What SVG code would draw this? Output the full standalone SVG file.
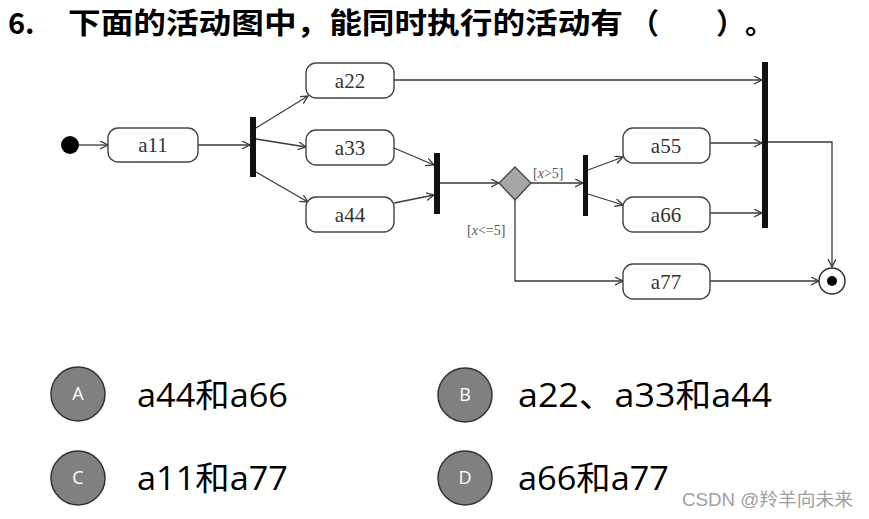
<svg xmlns="http://www.w3.org/2000/svg" width="869" height="519" viewBox="0 0 869 519">
<style>
.title{font-family:"Noto Sans CJK SC","Noto Sans",sans-serif;font-weight:bold;font-size:29px;fill:#000}
.box{fill:#fff;stroke:#444;stroke-width:1.4}
.lbl{font-family:"Liberation Serif","Noto Sans CJK SC",serif;font-size:21px;fill:#333;text-anchor:middle}
.guard{font-family:"Liberation Serif",serif;font-size:14px;fill:#555}
.bar{fill:#111}
.edge{fill:none;stroke:#3a3a3a;stroke-width:1.3}
.opt{fill:#808080;stroke:#333;stroke-width:1.5}
.optl{font-family:"Open Sans","Noto Sans",sans-serif;font-size:18px;fill:#fff;text-anchor:middle}
.optt{font-family:"Open Sans","Noto Sans CJK SC",sans-serif;font-size:33px;fill:#000}
.wm{font-family:"Liberation Sans","Noto Sans CJK SC",sans-serif;font-size:18px;fill:#a0a0a0}
</style>
<defs>
<marker id="arr" markerUnits="userSpaceOnUse" markerWidth="10" markerHeight="10" refX="8" refY="4" orient="auto">
<path d="M0,0 L8,4 L0,8" fill="none" stroke="#3a3a3a" stroke-width="1.3"/>
</marker>
</defs>
<rect width="869" height="519" fill="#fff"/>
<g id="title">
<text class="title" x="8" y="34">6.</text>
<text class="title" x="68" y="34" textLength="555" lengthAdjust="spacingAndGlyphs">下面的活动图中，能同时执行的活动有</text>
<text class="title" x="630" y="34">（</text>
<text class="title" x="716" y="34">）</text>
<text class="title" x="745" y="34">。</text>
</g>
<g id="connectors">
<path class="edge" marker-end="url(#arr)" d="M79,145 L108,145"/>
<path class="edge" marker-end="url(#arr)" d="M198,145 L250,145"/>
<path class="edge" marker-end="url(#arr)" d="M256,128 L308,96"/>
<path class="edge" marker-end="url(#arr)" d="M256,139 L306,147"/>
<path class="edge" marker-end="url(#arr)" d="M256,172 L308,202"/>
<path class="edge" marker-end="url(#arr)" d="M394,80 L762,80"/>
<path class="edge" marker-end="url(#arr)" d="M394,148 L434,165"/>
<path class="edge" marker-end="url(#arr)" d="M394,203 L434,195"/>
<path class="edge" marker-end="url(#arr)" d="M440,183 L499,183"/>
<path class="edge" marker-end="url(#arr)" d="M531,183 L583,183"/>
<path class="edge" marker-end="url(#arr)" d="M588,170 L623,157"/>
<path class="edge" marker-end="url(#arr)" d="M588,194 L623,205"/>
<path class="edge" marker-end="url(#arr)" d="M710,143 L762,143"/>
<path class="edge" marker-end="url(#arr)" d="M710,213 L762,213"/>
<path class="edge" marker-end="url(#arr)" d="M768,142 L832,142 L832,267"/>
<path class="edge" marker-end="url(#arr)" d="M515,200 L515,281 L623,281"/>
<path class="edge" marker-end="url(#arr)" d="M710,281 L819,281"/>
<text class="guard" x="533" y="178">[<tspan font-style="italic">x</tspan>&gt;5]</text>
<text class="guard" x="467" y="235">[<tspan font-style="italic">x</tspan>&lt;=5]</text>
</g>
<g id="start"><circle cx="70" cy="145" r="9" fill="#000"/></g>
<g id="a11"><rect class="box" x="108" y="128" width="90" height="34" rx="10"/><text class="lbl" x="153" y="152">a11</text></g>
<g id="fork1"><rect class="bar" x="250" y="117" width="6" height="60"/></g>
<g id="a22"><rect class="box" x="306" y="63" width="88" height="35" rx="10"/><text class="lbl" x="350" y="88">a22</text></g>
<g id="a33"><rect class="box" x="306" y="130" width="88" height="35" rx="10"/><text class="lbl" x="350" y="155">a33</text></g>
<g id="a44"><rect class="box" x="306" y="197" width="88" height="35" rx="10"/><text class="lbl" x="350" y="222">a44</text></g>
<g id="join1"><rect class="bar" x="434" y="153" width="6" height="61"/></g>
<g id="decision"><polygon points="515,167 531,183 515,200 499,183" fill="#a6a6a6" stroke="#444" stroke-width="1.3"/></g>
<g id="fork2"><rect class="bar" x="583" y="155" width="5" height="61"/></g>
<g id="a55"><rect class="box" x="623" y="128" width="87" height="35" rx="10"/><text class="lbl" x="666" y="153">a55</text></g>
<g id="a66"><rect class="box" x="623" y="197" width="87" height="35" rx="10"/><text class="lbl" x="666" y="222">a66</text></g>
<g id="a77"><rect class="box" x="623" y="264" width="87" height="35" rx="10"/><text class="lbl" x="666" y="289">a77</text></g>
<g id="join2"><rect class="bar" x="762" y="62" width="6" height="166"/></g>
<g id="final"><circle cx="832" cy="281" r="13" fill="#fff" stroke="#333" stroke-width="1.5"/><circle cx="832" cy="281" r="5" fill="#000"/></g>
<g id="optA"><circle class="opt" cx="78" cy="394" r="27"/><text class="optl" x="78" y="400">A</text><text class="optt" x="137" y="407" textLength="151" lengthAdjust="spacingAndGlyphs">a44和a66</text></g>
<g id="optB"><circle class="opt" cx="465" cy="395" r="27"/><text class="optl" x="465" y="401">B</text><text class="optt" x="518" y="407" textLength="254" lengthAdjust="spacingAndGlyphs">a22、a33和a44</text></g>
<g id="optC"><circle class="opt" cx="78" cy="478" r="27"/><text class="optl" x="78" y="484">C</text><text class="optt" x="137" y="490" textLength="151" lengthAdjust="spacingAndGlyphs">a11和a77</text></g>
<g id="optD"><circle class="opt" cx="465" cy="478" r="27"/><text class="optl" x="465" y="484">D</text><text class="optt" x="518" y="490" textLength="151" lengthAdjust="spacingAndGlyphs">a66和a77</text></g>
<text class="wm" x="682" y="506" textLength="171" lengthAdjust="spacingAndGlyphs">CSDN @羚羊向未来</text>
</svg>
